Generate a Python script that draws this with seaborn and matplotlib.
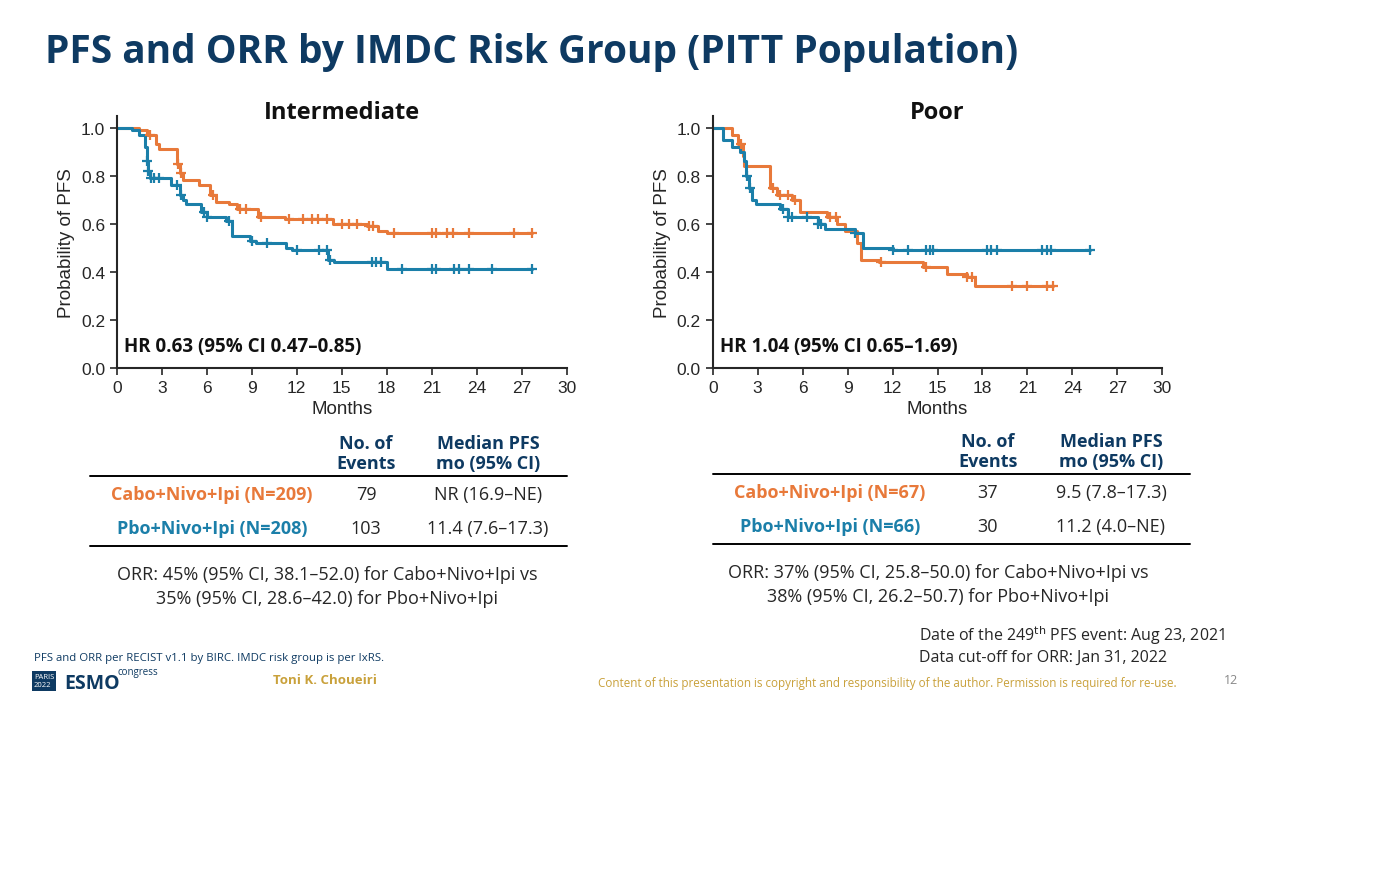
import numpy as np
import pandas as pd
import matplotlib
matplotlib.use("Agg")
import matplotlib.pyplot as plt
import seaborn as sns

sns.set_style("ticks")
plt.rcParams['font.family'] = ['Open Sans', 'DejaVu Sans']

ORANGE = "#E8793A"
BLUE = "#1B7FA9"
NAVY = "#0E3A62"
ARIAL = ['Liberation Sans', 'DejaVu Sans']

# step curves: (time, survival) after each drop
int_cabo_t = [0, 1.5, 2.0, 2.6, 2.8, 4.0, 4.2, 4.4, 5.5, 6.2, 6.6, 7.5, 8.0, 9.4, 11.2, 14.4, 16.7, 17.4, 18.0, 27.7]
int_cabo_s = [1.0, 0.99, 0.97, 0.93, 0.91, 0.85, 0.81, 0.78, 0.76, 0.72, 0.69, 0.68, 0.66, 0.63, 0.62, 0.60, 0.59, 0.57, 0.56, 0.56]
int_cabo_cens = [2.2, 4.1, 4.3, 6.4, 8.2, 8.6, 9.6, 11.5, 12.4, 13.0, 13.4, 14.0, 15.0, 15.5, 16.0, 16.8, 17.1, 18.5, 21.0, 21.3, 22.0, 22.4, 23.5, 26.5, 27.7]
int_pbo_t = [0, 1.0, 1.5, 1.9, 2.0, 2.1, 2.2, 3.6, 4.2, 4.4, 4.6, 5.6, 6.0, 7.3, 7.7, 8.9, 9.3, 11.3, 11.7, 14.1, 14.5, 18.0, 27.7]
int_pbo_s = [1.0, 0.99, 0.97, 0.92, 0.86, 0.82, 0.79, 0.76, 0.72, 0.70, 0.68, 0.65, 0.63, 0.61, 0.55, 0.53, 0.52, 0.50, 0.49, 0.45, 0.44, 0.41, 0.41]
int_pbo_cens = [2.0, 2.1, 2.3, 2.5, 2.8, 4.0, 4.3, 5.8, 6.0, 7.5, 9.0, 10.0, 12.0, 13.5, 14.0, 14.2, 17.0, 17.3, 17.6, 19.0, 21.0, 21.3, 22.5, 22.8, 23.5, 25.0, 27.7]

poor_cabo_t = [0, 1.3, 1.7, 2.0, 2.1, 3.8, 4.3, 5.3, 5.8, 7.6, 8.3, 8.8, 9.6, 9.9, 11.1, 14.0, 15.6, 17.0, 17.5, 22.7]
poor_cabo_s = [1.0, 0.97, 0.93, 0.88, 0.84, 0.75, 0.72, 0.70, 0.65, 0.63, 0.60, 0.57, 0.52, 0.45, 0.44, 0.42, 0.39, 0.38, 0.34, 0.34]
poor_cabo_cens = [1.9, 4.0, 4.5, 5.0, 5.5, 7.8, 8.2, 11.2, 14.2, 17.0, 17.3, 20.0, 21.0, 22.3, 22.7]
poor_pbo_t = [0, 0.7, 1.3, 1.8, 2.1, 2.2, 2.4, 2.6, 2.9, 4.5, 5.0, 7.0, 7.5, 9.5, 10.0, 12.0, 25.2]
poor_pbo_s = [1.0, 0.95, 0.92, 0.90, 0.86, 0.80, 0.75, 0.70, 0.68, 0.66, 0.63, 0.60, 0.58, 0.56, 0.50, 0.49, 0.49]
poor_pbo_cens = [2.3, 2.5, 4.7, 5.0, 5.3, 6.3, 7.0, 7.2, 9.5, 12.0, 13.0, 14.2, 14.5, 14.7, 18.3, 18.6, 19.0, 22.0, 22.3, 22.6, 25.2]

fig = plt.figure(figsize=(13.92, 8.7), dpi=100)
fig.text(0.032, 0.94, "PFS and ORR by IMDC Risk Group (PITT Population)", fontsize=28,
         fontweight="bold", color=NAVY, va="center")


def surv_at(t, s, x):
    i = np.searchsorted(t, x, side="right") - 1
    return s[max(i, 0)]


def km_panel(ax, curves, title, hr):
    for t, s, cens, col in curves:
        df = pd.DataFrame({"t": t, "s": s})
        sns.lineplot(data=df, x="t", y="s", drawstyle="steps-post", color=col, lw=2.2, ax=ax)
        cd = pd.DataFrame({"t": cens, "s": [surv_at(t, s, c) for c in cens]})
        sns.scatterplot(data=cd, x="t", y="s", marker="+", s=50, color=col, linewidth=1.6, ax=ax, zorder=3)
    ax.set_xlim(0, 30)
    ax.set_ylim(0, 1.05)
    ax.set_xticks(range(0, 31, 3))
    ax.set_yticks(np.arange(0, 1.01, 0.2))
    ax.set_yticklabels([f"{v:.1f}" for v in np.arange(0, 1.01, 0.2)])
    ax.tick_params(labelsize=12.5, length=5, width=1.2)
    for lab in ax.get_xticklabels() + ax.get_yticklabels():
        lab.set_family(ARIAL)
    for sp in ["top", "right"]:
        ax.spines[sp].set_visible(False)
    ax.spines["left"].set_linewidth(1.5)
    ax.spines["bottom"].set_linewidth(1.5)
    ax.set_xlabel("Months", fontsize=13.5, labelpad=4, family=ARIAL)
    ax.set_ylabel("Probability of PFS", fontsize=13.5, family=ARIAL)
    ax.set_title(title, fontsize=17, fontweight="bold", pad=-2, y=1.0, color="#111111")
    ax.text(0.5, 0.07, hr, fontsize=13.5, fontweight="bold", transform=ax.transData, color="#111111")


ax1 = fig.add_axes([0.084, 0.576, 0.323, 0.29])
km_panel(ax1, [(int_cabo_t, int_cabo_s, int_cabo_cens, ORANGE),
               (int_pbo_t, int_pbo_s, int_pbo_cens, BLUE)], "Intermediate", "HR 0.63 (95% CI 0.47–0.85)")
ax2 = fig.add_axes([0.512, 0.576, 0.323, 0.29])
km_panel(ax2, [(poor_cabo_t, poor_cabo_s, poor_cabo_cens, ORANGE),
               (poor_pbo_t, poor_pbo_s, poor_pbo_cens, BLUE)], "Poor", "HR 1.04 (95% CI 0.65–1.69)")

arms_int = ["Cabo+Nivo+Ipi (N=209)", "Pbo+Nivo+Ipi (N=208)"]
events_int = ["79", "103"]
median_int = ["NR (16.9–NE)", "11.4 (7.6–17.3)"]
orr_int = "ORR: 45% (95% CI, 38.1–52.0) for Cabo+Nivo+Ipi vs\n35% (95% CI, 28.6–42.0) for Pbo+Nivo+Ipi"
arms_poor = ["Cabo+Nivo+Ipi (N=67)", "Pbo+Nivo+Ipi (N=66)"]
events_poor = ["37", "30"]
median_poor = ["9.5 (7.8–17.3)", "11.2 (4.0–NE)"]
orr_poor = "ORR: 37% (95% CI, 25.8–50.0) for Cabo+Nivo+Ipi vs\n38% (95% CI, 26.2–50.7) for Pbo+Nivo+Ipi"


def table(x0, x1, ytop, arms, events, medians, orr, cx_arm, cx_ev, cx_med, cx_orr):
    W, H = 1392, 870
    hy = ytop - 23
    fig.text(cx_ev / W, 1 - hy / H, "No. of\nEvents", ha="center", va="center", fontsize=13,
             fontweight="bold", color=NAVY, linespacing=1.1)
    fig.text(cx_med / W, 1 - hy / H, "Median PFS\nmo (95% CI)", ha="center", va="center", fontsize=13,
             fontweight="bold", color=NAVY, linespacing=1.1)
    for y in (ytop, ytop + 70):
        fig.add_artist(plt.Line2D([x0 / W, x1 / W], [1 - y / H, 1 - y / H], color="black", lw=1.4))
    for i, (a, e, m, c) in enumerate(zip(arms, events, medians, [ORANGE, BLUE])):
        y = 1 - (ytop + 18 + 34 * i) / H
        fig.text(cx_arm / W, y, a, ha="center", va="center", fontsize=13, fontweight="bold", color=c)
        fig.text(cx_ev / W, y, e, ha="center", va="center", fontsize=13)
        fig.text(cx_med / W, y, m, ha="center", va="center", fontsize=13)
    fig.text(cx_orr / W, 1 - (ytop + 110) / H, orr, ha="center", va="center", fontsize=13, linespacing=1.45)


table(90, 567, 477, arms_int, events_int, median_int, orr_int, 212, 366, 488, 327)
table(713, 1190, 475, arms_poor, events_poor, median_poor, orr_poor, 830, 988, 1111, 938)

fig.text(919 / 1392, 1 - 636 / 870, "Date of the 249$^{\\mathrm{th}}$ PFS event: Aug 23, 2021", fontsize=11.5, va="center")
fig.text(919 / 1392, 1 - 658 / 870, "Data cut-off for ORR: Jan 31, 2022", fontsize=11.5, va="center")
fig.text(34 / 1392, 1 - 658 / 870, "PFS and ORR per RECIST v1.1 by BIRC. IMDC risk group is per IxRS.",
         fontsize=8.2, color=NAVY, va="center")
fig.text(34 / 1392, 1 - 682 / 870, "PARIS\n2022", fontsize=5.5, color="white", va="center",
         bbox=dict(facecolor=NAVY, edgecolor="none", pad=1.5))
fig.text(64 / 1392, 1 - 684 / 870, "ESMO", fontsize=14, fontweight="bold", color=NAVY, va="center")
fig.text(118 / 1392, 1 - 673 / 870, "congress", fontsize=7, color=NAVY, va="center")
fig.text(273 / 1392, 1 - 681 / 870, "Toni K. Choueiri", fontsize=9.5, fontweight="bold", color="#C9A13B", va="center")
fig.text(598 / 1392, 1 - 684 / 870,
         "Content of this presentation is copyright and responsibility of the author. Permission is required for re-use.",
         fontsize=8.4, color="#C9A13B", va="center")
fig.text(1224 / 1392, 1 - 680 / 870, "12", fontsize=9, color="#888888", va="center")

fig.savefig("out.png", dpi=100)
